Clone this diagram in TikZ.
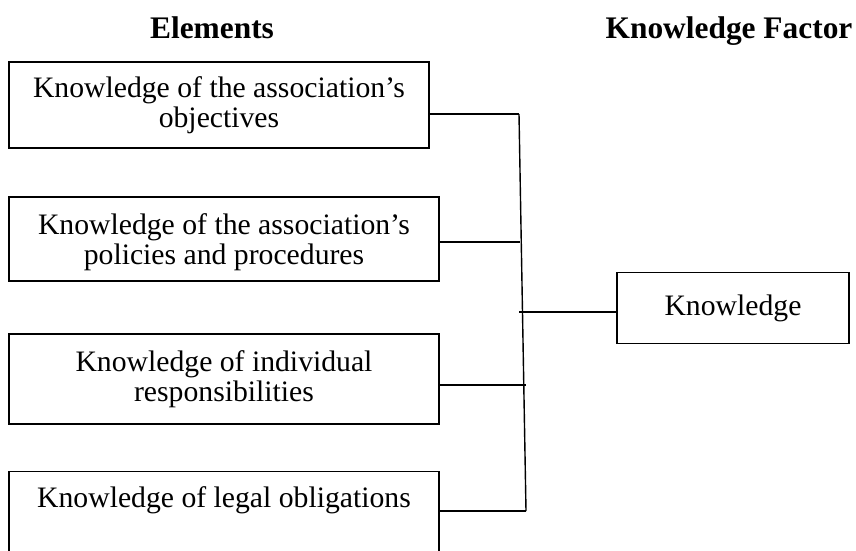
\documentclass[tikz,border=0pt]{standalone}
\usepackage{fontspec}
\setmainfont{Liberation Serif}
\begin{document}
\begin{tikzpicture}[x=1pt,y=-1pt,
  every node/.style={inner sep=0pt},
  elembox/.style={draw, line width=1.4pt, align=center,
    font=\fontsize{29.7}{30}\selectfont},
  heading/.style={font=\fontsize{31.4}{34}\selectfont\bfseries, anchor=base},
  link/.style={line width=1.4pt}]
\useasboundingbox (0,0) rectangle (856,550);
\clip (0,0) rectangle (856,550);

% column headings
\node[heading] (hElem) at (212,38) {Elements};
\node[heading] (hFact) at (729,38) {Knowledge Factor};

% element boxes
\node[elembox, minimum width=420, minimum height=86] (e1) at (219,105)
  {Knowledge of the association’s\\objectives};
\node[elembox, minimum width=430, minimum height=84] (e2) at (224,239)
  {\rule{0pt}{27.5pt}Knowledge of the association’s\\policies and procedures};
\node[elembox, minimum width=430, minimum height=90] (e3) at (224,379)
  {Knowledge of individual\\responsibilities};
\node[elembox, anchor=north, minimum width=430, text height=36.5, text depth=63]
  (e4) at (224,470.5) {Knowledge of legal obligations};

% factor box
\node[elembox, minimum width=232, minimum height=71] (kf) at (733,308)
  {Knowledge};

% junction points on the collecting line
\coordinate (j1) at (519,114);
\coordinate (j2) at (520,242);
\coordinate (jk) at (519,312);
\coordinate (j3) at (526,385);
\coordinate (j4) at (526,511);

\draw[link] (j1) -- (j4);
\draw[link] (e1.east |- j1) -- (j1);
\draw[link] (e2.east |- j2) -- (j2);
\draw[link] (e3.east |- j3) -- (j3);
\draw[link] (e4.east |- j4) -- (j4);
\draw[link] (jk) -- (kf.west |- jk);
\end{tikzpicture}
\end{document}
